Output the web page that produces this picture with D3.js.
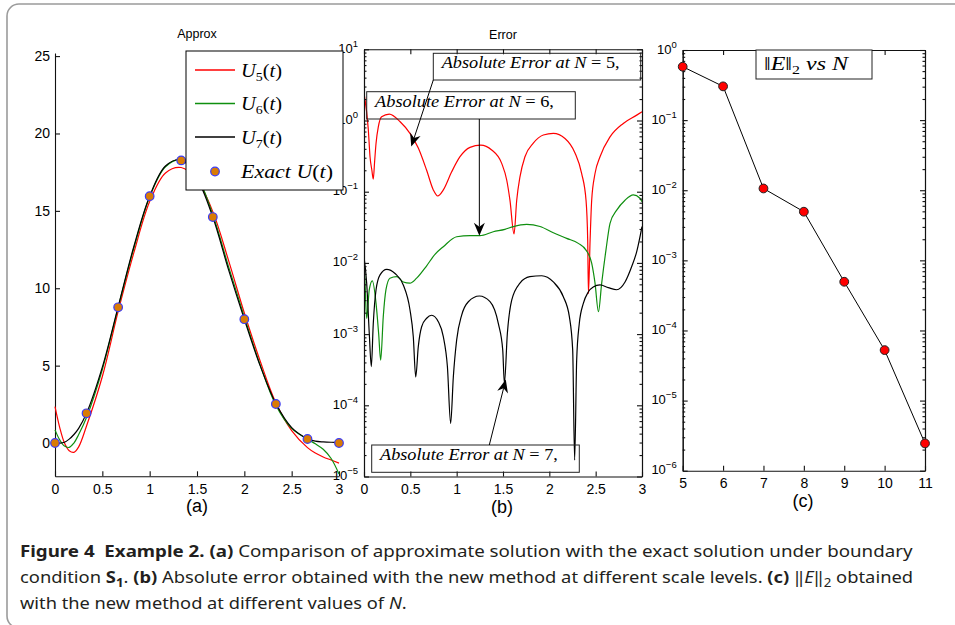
<!DOCTYPE html>
<html>
<head>
<meta charset="utf-8">
<script src="https://cdn.jsdelivr.net/npm/d3@7"></script>
<style>
  body { margin: 0; background: #fff; }
  svg { display: block; }
  .tick text { font-family: 'Liberation Sans', Arial, sans-serif; font-size: 14px; fill: #000; }
  .axis path, .axis line { stroke: #111; stroke-width: 1.1; }
  .math { font-family: 'Liberation Serif', 'Times New Roman', serif; fill: #000; }
  .caption { font-family: 'Noto Sans', 'Open Sans', sans-serif; font-size: 16.5px; fill: #231f20; white-space: pre; }
</style>
</head>
<body>
<svg id="chart" width="955" height="625"></svg>
<script>
/* Three panels: (a) approximations vs exact, (b) absolute error on a log
   scale, (c) L2 error norm against N. */

// panel (a)
const uT = [0, 0.05, 0.1, 0.15, 0.2, 0.25, 0.333, 0.5, 0.667, 0.833, 1, 1.167, 1.333,
  1.5, 1.667, 1.833, 2, 2.167, 2.333, 2.5, 2.667, 2.75, 2.833, 2.917, 3];
const u5 = [2.35, 1.0, 0.0, -0.5, -0.6, -0.25, 1.1, 4.3, 8.5, 12.3, 15.6, 17.45, 17.8,
  17.0, 14.95, 11.8, 8.4, 5.3, 2.6, 0.8, -0.3, -0.65, -0.9, -1.1, -1.3];
const u6 = [0.85, 0.2, -0.2, -0.28, 0.0, 0.55, 1.65, 4.75, 8.75, 12.6, 15.9, 17.85, 18.3,
  17.25, 14.75, 11.4, 8.15, 5.05, 2.45, 0.95, 0.25, -0.05, -0.4, -1.0, -2.0];
const u7 = [0.08, 0.0, 0.05, 0.25, 0.55, 0.95, 1.92, 4.9, 8.8, 12.7, 15.95, 17.9, 18.3,
  17.1, 14.6, 11.2, 8.0, 5.0, 2.55, 1.0, 0.28, 0.12, 0.07, 0.05, 0.05];
const exactT = [0, 0.333, 0.667, 1, 1.333, 1.667, 2, 2.333, 2.667, 3];
const exactU = [0, 1.92, 8.77, 15.95, 18.26, 14.6, 8.0, 2.52, 0.26, 0];
const approxTicksX = [0, 0.5, 1, 1.5, 2, 2.5, 3];
const approxTicksY = [0, 5, 10, 15, 20, 25];

// panel (b)
const err5T = [0, 0.047, 0.065, 0.085, 0.1, 0.115, 0.13, 0.155, 0.19, 0.273, 0.39, 0.496,
  0.586, 0.676, 0.748, 0.795, 0.856, 0.946, 1.036, 1.144, 1.259, 1.378, 1.486, 1.54, 1.575,
  1.619, 1.648, 1.683, 1.737, 1.827, 1.935, 2.043, 2.169, 2.277, 2.349, 2.396, 2.414, 2.422,
  2.44, 2.457, 2.493, 2.547, 2.655, 2.798, 2.943, 3.0];
const err5 = [2.4, 0.73, 0.31, 0.2, 0.15, 0.27, 0.48, 0.82, 1.13, 1.23, 0.96, 0.66,
  0.41, 0.2, 0.106, 0.087, 0.106, 0.19, 0.31, 0.42, 0.45, 0.385, 0.25, 0.146, 0.076,
  0.0255, 0.076, 0.162, 0.31, 0.48, 0.625, 0.66, 0.56, 0.35, 0.18, 0.076, 0.021, 0.0037,
  0.021, 0.076, 0.18, 0.31, 0.59, 0.91, 1.19, 1.33];
const err6T = [0, 0.012, 0.029, 0.057, 0.09, 0.13, 0.158, 0.18, 0.208, 0.237, 0.28, 0.353,
  0.424, 0.496, 0.568, 0.676, 0.766, 0.856, 1.0, 1.144, 1.252, 1.395, 1.52, 1.611, 1.755,
  1.9, 2.043, 2.187, 2.313, 2.396, 2.457, 2.493, 2.53, 2.565, 2.611, 2.655, 2.727, 2.817,
  2.906, 2.978, 3.0];
const err6 = [0.0126, 0.005, 0.00166, 0.0042, 0.0056, 0.0027, 0.00102, 0.00043, 0.00176,
  0.0042, 0.0061, 0.0064, 0.0054, 0.0052, 0.0061, 0.0091, 0.0132, 0.0169, 0.0233, 0.0241,
  0.0241, 0.0274, 0.0296, 0.0324, 0.0348, 0.0324, 0.0265, 0.0221, 0.0188, 0.0151, 0.0099,
  0.0052, 0.00207, 0.0052, 0.0151, 0.036, 0.055, 0.076, 0.09, 0.081, 0.072];
const err7T = [0, 0.029, 0.057, 0.079, 0.1, 0.13, 0.173, 0.245, 0.335, 0.424, 0.496, 0.532,
  0.558, 0.586, 0.622, 0.676, 0.73, 0.802, 0.856, 0.9, 0.935, 0.964, 1.0, 1.054, 1.126,
  1.245, 1.36, 1.45, 1.497, 1.515, 1.547, 1.594, 1.683, 1.79, 1.918, 2.043, 2.151, 2.216,
  2.252, 2.273, 2.295, 2.323, 2.367, 2.42, 2.474, 2.547, 2.636, 2.727, 2.817, 2.889, 2.943, 3.0];
const err7 = [0.0122, 0.0052, 0.00102, 0.00035, 0.0014, 0.0042, 0.0068, 0.0081, 0.0071,
  0.0049, 0.0022, 0.00092, 0.00025, 0.00067, 0.00127, 0.00167, 0.00184, 0.00149, 0.00092,
  0.00035, 0.0000558, 0.00025, 0.00083, 0.00185, 0.00285, 0.00343, 0.00285, 0.0014, 0.0006,
  0.000204, 0.00102, 0.003, 0.0052, 0.0064, 0.0066, 0.0054, 0.00335, 0.00176, 0.0006,
  0.000017, 0.00043, 0.0014, 0.0027, 0.0039, 0.0046, 0.0049, 0.0045, 0.0042, 0.0054,
  0.0089, 0.0144, 0.0324];
const errorTicksX = [0, 0.5, 1, 1.5, 2, 2.5, 3];
const errorDecades = [-5, -4, -3, -2, -1, 0, 1];
const errorNotes = ['5', '6', '7'];

// panel (c)
const normN = [5, 6, 7, 8, 9, 10, 11];
const normE = [0.578, 0.303, 0.0106, 0.00494, 0.000495, 0.0000525, 0.00000245];
const normDecades = [-6, -5, -4, -3, -2, -1, 0];

const colors = { u5: '#ff0000', u6: '#0f8f0f', u7: '#000000', markFill: '#d97b05', markEdge: '#3b3bf5' };

const svg = d3.select('#chart');

// rounded frame around the whole figure
svg.append('rect')
  .attr('x', 7).attr('y', 4).attr('width', 1000).attr('height', 624).attr('rx', 12)
  .attr('fill', 'none').attr('stroke', '#9b9b9b').attr('stroke-width', 1.6);

function fitWidth(sel, x0, width) {
  const w = sel.node().getComputedTextLength();
  const k = width / w;
  sel.attr('transform', `translate(${x0},0) scale(${k},1) translate(${-x0},0)`);
}

function powLabel(d) { return d < 0 ? '\u2212' + (-d) : String(d); }

// log axis on a boxed panel: majors + minors on both sides, labels on the left
function logBox(g, x, y, decades) {
  const [x0, x1] = x.range();
  const majors = decades.map((k) => Math.pow(10, k));
  const minors = [];
  decades.slice(0, -1).forEach((k) => { for (let m = 2; m < 10; m++) minors.push(m * Math.pow(10, k)); });
  g.append('g').attr('class', 'axis').attr('transform', `translate(${x0},0)`)
    .call(d3.axisLeft(y).tickValues(majors).tickSizeInner(-5).tickSizeOuter(0).tickFormat(''));
  g.append('g').attr('class', 'axis').attr('transform', `translate(${x1},0)`)
    .call(d3.axisRight(y).tickValues(majors).tickSizeInner(-5).tickSizeOuter(0).tickFormat(''));
  g.append('g').attr('class', 'axis').attr('transform', `translate(${x0},0)`)
    .call(d3.axisLeft(y).tickValues(minors).tickSizeInner(-2.5).tickSizeOuter(0).tickFormat(''));
  g.append('g').attr('class', 'axis').attr('transform', `translate(${x1},0)`)
    .call(d3.axisRight(y).tickValues(minors).tickSizeInner(-2.5).tickSizeOuter(0).tickFormat(''));
  const lbl = g.selectAll('text.dec').data(decades).join('text')
    .attr('class', 'dec')
    .attr('x', x0 - 6).attr('y', (d) => y(Math.pow(10, d)) + 3.5)
    .attr('text-anchor', 'end')
    .style('font-family', "'Liberation Sans', Arial, sans-serif")
    .style('font-size', '13px');
  lbl.append('tspan').text('10');
  lbl.append('tspan').attr('dy', -6).style('font-size', '9.5px').text(powLabel);
}

function linBox(g, x, y, ticks, pad) {
  const [y0, y1] = y.range();
  g.append('g').attr('class', 'axis').attr('transform', `translate(0,${y0})`)
    .call(d3.axisBottom(x).tickValues(ticks).tickSizeInner(-5).tickSizeOuter(0).tickPadding(pad).tickFormat((d) => d));
  g.append('g').attr('class', 'axis').attr('transform', `translate(0,${y1})`)
    .call(d3.axisTop(x).tickValues(ticks).tickSizeInner(-5).tickSizeOuter(0).tickFormat(''));
}

function label(text, x, y, size) {
  svg.append('text').attr('x', x).attr('y', y).attr('text-anchor', 'middle')
    .style('font-family', "'Liberation Sans', Arial, sans-serif").style('font-size', size + 'px')
    .text(text);
}

function arrow(g, x1, y1, x2, y2) {
  const a = Math.atan2(y2 - y1, x2 - x1);
  const ux = Math.cos(a), uy = Math.sin(a);
  const L = 13, W = 5.5, N = 9;
  g.append('line').attr('x1', x1).attr('y1', y1).attr('x2', x2 - N * ux).attr('y2', y2 - N * uy)
    .attr('stroke', '#000').attr('stroke-width', 1);
  const pts = [
    [x2, y2],
    [x2 - L * ux - W * uy, y2 - L * uy + W * ux],
    [x2 - N * ux, y2 - N * uy],
    [x2 - L * ux + W * uy, y2 - L * uy - W * ux],
  ];
  g.append('polygon').attr('points', pts.map((p) => p.join(',')).join(' ')).attr('fill', '#000');
}

// "Absolute Error at N = k," written as math italic in a plain box
function noteBox(g, box, textX, textY, textW, k) {
  g.append('rect').attr('x', box[0]).attr('y', box[1]).attr('width', box[2]).attr('height', box[3])
    .attr('fill', 'none').attr('stroke', '#222').attr('stroke-width', 1);
  const t = g.append('text').attr('class', 'math').attr('x', textX).attr('y', textY)
    .style('font-size', '17px').style('white-space', 'pre');
  t.append('tspan').style('font-style', 'italic').text('Absolute Error at N');
  t.append('tspan').text(' = ' + k + ',');
  fitWidth(t, textX, textW);
}

/* ---------- panel (a) ---------- */
function drawApprox() {
  const x = d3.scaleLinear([0, 3], [55, 339]);
  const y = d3.scaleLinear([-2.15, 25.2], [476.3, 53]);
  const g = svg.append('g');
  g.append('g').attr('class', 'axis').attr('transform', 'translate(0,476.3)')
    .call(d3.axisBottom(x).tickValues(approxTicksX).tickSizeInner(-5).tickSizeOuter(0).tickPadding(8).tickFormat((d) => d));
  g.append('g').attr('class', 'axis').attr('transform', 'translate(55,0)')
    .call(d3.axisLeft(y).tickValues(approxTicksY).tickSizeInner(-5).tickSizeOuter(0).tickPadding(5));

  const line = d3.line().x((d, i) => x(uT[i])).y((d) => y(d)).curve(d3.curveCatmullRom.alpha(0.5));
  [[u5, colors.u5], [u6, colors.u6], [u7, colors.u7]].forEach(([vals, c]) => {
    g.append('path').datum(vals).attr('d', line)
      .attr('fill', 'none').attr('stroke', c).attr('stroke-width', 1.2);
  });
  g.selectAll('circle').data(exactU).join('circle')
    .attr('cx', (d, i) => x(exactT[i])).attr('cy', (d) => y(d)).attr('r', 4.3)
    .attr('fill', colors.markFill).attr('stroke', colors.markEdge).attr('stroke-width', 1.2);
  label('Approx', 197, 37.5, 12.5);
  label('(a)', 197, 512, 18);
}

function drawApproxLegend() {
  const g = svg.append('g');
  g.append('rect').attr('x', 186).attr('y', 51).attr('width', 157).attr('height', 139)
    .attr('fill', '#fff').attr('stroke', '#000').attr('stroke-width', 1);
  const rows = [
    { n: '5', c: colors.u5, y: 70, base: 77 },
    { n: '6', c: colors.u6, y: 103.5, base: 110.5 },
    { n: '7', c: colors.u7, y: 137, base: 144 },
  ];
  rows.forEach((r) => {
    g.append('line').attr('x1', 195).attr('x2', 235).attr('y1', r.y).attr('y2', r.y)
      .attr('stroke', r.c).attr('stroke-width', 1.3);
    const t = g.append('text').attr('class', 'math').attr('x', 241).attr('y', r.base).style('font-size', '19px');
    t.append('tspan').style('font-style', 'italic').text('U');
    t.append('tspan').attr('dy', 4).style('font-size', '13px').text(r.n);
    t.append('tspan').attr('dy', -4).text('(');
    t.append('tspan').style('font-style', 'italic').text('t');
    t.append('tspan').text(')');
    fitWidth(t, 241, 41);
  });
  g.append('circle').attr('cx', 215).attr('cy', 171.5).attr('r', 4.3)
    .attr('fill', colors.markFill).attr('stroke', colors.markEdge).attr('stroke-width', 1.2);
  const t = g.append('text').attr('class', 'math').attr('x', 241).attr('y', 178)
    .style('font-size', '19px').style('white-space', 'pre');
  t.append('tspan').style('font-style', 'italic').text('Exact U');
  t.append('tspan').text('(');
  t.append('tspan').style('font-style', 'italic').text('t');
  t.append('tspan').text(')');
  fitWidth(t, 241, 92);
}

/* ---------- panel (b) ---------- */
function drawError() {
  const x = d3.scaleLinear([0, 3], [364, 642]);
  const y = d3.scaleLog([1e-5, 10], [476.5, 49.3]);
  const g = svg.append('g');
  svg.append('clipPath').attr('id', 'clipB').append('rect')
    .attr('x', 364).attr('y', 49.3).attr('width', 278).attr('height', 427.2);

  const curves = g.append('g').attr('clip-path', 'url(#clipB)');
  [[err5T, err5, colors.u5], [err6T, err6, colors.u6], [err7T, err7, colors.u7]].forEach(([ts, vals, c]) => {
    const line = d3.line().x((d, i) => x(ts[i])).y((d) => y(d)).curve(d3.curveMonotoneX);
    curves.append('path').datum(vals).attr('d', line)
      .attr('fill', 'none').attr('stroke', c).attr('stroke-width', 1.2);
  });

  linBox(g, x, y, errorTicksX, 8);
  logBox(g, x, y, errorDecades);

  const notes = g.append('g');
  noteBox(notes, [433.3, 53.3, 207.4, 26.7], 441.7, 68.5, 178, errorNotes[0]);
  noteBox(notes, [366.7, 91.7, 208.6, 27.3], 375, 106.7, 179, errorNotes[1]);
  noteBox(notes, [371.7, 445, 207.6, 27.3], 380, 460, 178, errorNotes[2]);
  arrow(notes, 433.3, 80, x(0.51), y(0.43));
  arrow(notes, 479.3, 119, x(1.245), y(0.0241));
  arrow(notes, 489.3, 445, x(1.53), y(0.00023));

  label('Error', 503, 39, 12.5);
  label('(b)', 502, 513, 18);
}

/* ---------- panel (c) ---------- */
function drawNorm() {
  const x = d3.scaleLinear([5, 11], [682.7, 925]);
  const y = d3.scaleLog([1e-6, 1], [470.7, 50]);
  const g = svg.append('g');
  linBox(g, x, y, normN, 7);
  logBox(g, x, y, normDecades);

  const line = d3.line().x((d, i) => x(normN[i])).y((d) => y(d));
  g.append('path').datum(normE).attr('d', line)
    .attr('fill', 'none').attr('stroke', '#000').attr('stroke-width', 1);
  g.selectAll('circle').data(normE).join('circle')
    .attr('cx', (d, i) => x(normN[i])).attr('cy', (d) => y(d)).attr('r', 4.4)
    .attr('fill', '#ff0000').attr('stroke', '#222').attr('stroke-width', 1);

  g.append('rect').attr('x', 756).attr('y', 50).attr('width', 116).attr('height', 29)
    .attr('fill', '#fff').attr('stroke', '#222').attr('stroke-width', 1);
  const t = g.append('text').attr('class', 'math').attr('x', 764).attr('y', 70)
    .style('font-size', '18px').style('white-space', 'pre');
  t.append('tspan').text('\u2016');
  t.append('tspan').style('font-style', 'italic').text('E');
  t.append('tspan').text('\u2016');
  t.append('tspan').attr('dy', 4).style('font-size', '12px').text('2');
  t.append('tspan').attr('dy', -4).style('font-style', 'italic').text(' vs N');
  fitWidth(t, 764, 84);

  label('(c)', 803, 507, 18);
}

/* ---------- caption ---------- */
const captionLines = [
  [['Figure 4  Example 2. ', 'b'], ['(a)', 'b'], [' Comparison of approximate solution with the exact solution under boundary', 'n']],
  [['condition ', 'n'], ['S', 'b'], ['1', 'bs'], ['. ', 'n'], ['(b)', 'b'],
    [' Absolute error obtained with the new method at different scale levels. ', 'n'], ['(c)', 'b'],
    [' \u2016', 'n'], ['E', 'i'], ['\u2016', 'n'], ['2', 's'], [' obtained', 'n']],
  [['with the new method at different values of ', 'n'], ['N', 'i'], ['.', 'n']],
];
const captionWidths = [893, 894, 387];

function drawCaption() {
  captionLines.forEach((segs, li) => {
    const t = svg.append('text').attr('class', 'caption').attr('x', 20).attr('y', 557 + li * 26);
    let shift = 0;
    segs.forEach(([s, kind]) => {
      const sub = kind === 's' || kind === 'bs';
      const want = sub ? 4 : 0;
      const sp = t.append('tspan').text(s).attr('dy', want - shift);
      shift = want;
      if (kind === 'b' || kind === 'bs') sp.style('font-weight', 'bold');
      if (kind === 'i') sp.style('font-style', 'italic');
      if (sub) sp.style('font-size', '12px');
    });
    fitWidth(t, 20, captionWidths[li]);
  });
}

drawError();
drawNorm();
drawApprox();
drawApproxLegend();
drawCaption();
</script>
</body>
</html>
